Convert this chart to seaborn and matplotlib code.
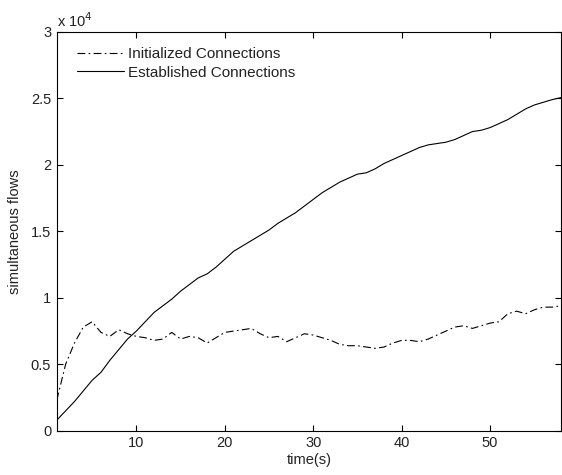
import numpy as np
import pandas as pd
import seaborn as sns
import matplotlib.pyplot as plt
from matplotlib.ticker import FuncFormatter

# data
time_s = list(range(1, 59))
initialized = [2300, 5000, 6600, 7800, 8200, 7400, 7100, 7600, 7300, 7100,
               7000, 6800, 6900, 7400, 6900, 7100, 7000, 6600, 7000, 7400,
               7500, 7600, 7700, 7300, 7000, 7100, 6700, 7000, 7300, 7200,
               7000, 6800, 6500, 6400, 6400, 6300, 6200, 6300, 6600, 6800,
               6800, 6700, 6900, 7200, 7500, 7800, 7900, 7700, 7900, 8100,
               8200, 8800, 9000, 8800, 9100, 9300, 9300, 9400]
established = [800, 1500, 2200, 3000, 3800, 4400, 5300, 6100, 6900, 7500,
               8200, 8900, 9400, 9900, 10500, 11000, 11500, 11800, 12300, 12900,
               13500, 13900, 14300, 14700, 15100, 15600, 16000, 16400, 16900, 17400,
               17900, 18300, 18700, 19000, 19300, 19400, 19700, 20100, 20400, 20700,
               21000, 21300, 21500, 21600, 21700, 21900, 22200, 22500, 22600, 22800,
               23100, 23400, 23800, 24200, 24500, 24700, 24900, 25050]
series_names = ['Initialized Connections', 'Established Connections']

df = pd.DataFrame({
    'time': time_s * 2,
    'flows': initialized + established,
    'series': [series_names[0]] * len(time_s) + [series_names[1]] * len(time_s),
})

sns.set_style('ticks')
plt.rcParams['font.family'] = ['Liberation Sans', 'DejaVu Sans']
plt.rcParams['font.size'] = 10.5
txt = '#222222'

fig = plt.figure(figsize=(5.62, 4.75), dpi=100)
ax = fig.add_axes([0.101, 0.093, 0.897, 0.840])

sns.lineplot(data=df, x='time', y='flows', hue='series', style='series',
             palette=['black', 'black'],
             dashes={series_names[0]: (7, 3, 1.5, 3), series_names[1]: ''},
             linewidth=0.8, ax=ax)

ax.set_xlim(1, 58)
ax.set_ylim(0, 30000)
ax.set_xticks([10, 20, 30, 40, 50])
ax.set_yticks(np.arange(0, 30001, 5000))
ax.yaxis.set_major_formatter(FuncFormatter(lambda v, p: f'{v / 1e4:g}'))
ax.tick_params(direction='in', top=True, right=True, length=4, width=0.8,
               labelsize=10.5, colors='black', labelcolor=txt, pad=4)
for s in ax.spines.values():
    s.set_linewidth(0.8)
    s.set_color('black')
ax.text(0.0, 1.005, r'x 10$^4$', transform=ax.transAxes, ha='left', va='bottom',
        fontsize=10.5, color=txt)

ax.set_xlabel('time(s)', fontsize=10.5, labelpad=2, color=txt)
ax.set_ylabel('simultaneous flows', fontsize=10.5, labelpad=6, color=txt)

leg = ax.legend(loc='upper left', frameon=False, fontsize=11, handlelength=3.1,
                handletextpad=0.25, labelspacing=0.3, borderaxespad=0,
                borderpad=0, bbox_to_anchor=(0.04, 0.962))
for line in leg.get_lines():
    line.set_linewidth(0.8)
for t in leg.get_texts():
    t.set_color(txt)

fig.savefig('out.png', dpi=100)
